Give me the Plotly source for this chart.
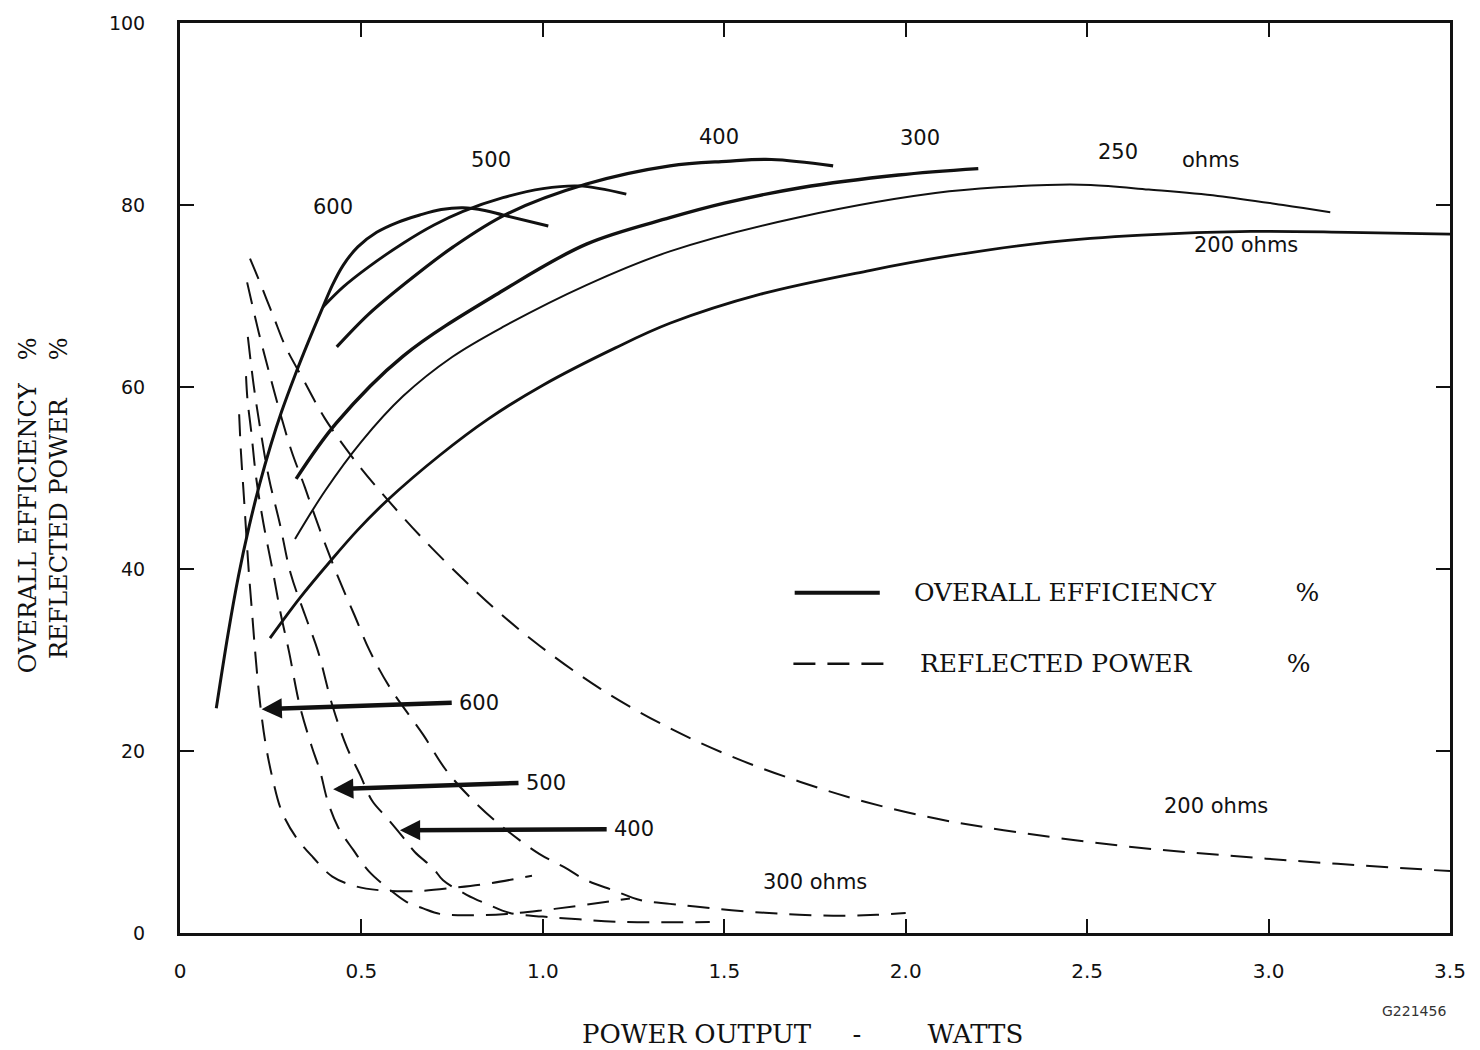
import plotly.graph_objects as go

# Overall efficiency (%) vs power output (W), one curve per load impedance
eff_600_x = [0.10, 0.133, 0.161, 0.19, 0.22, 0.25, 0.28, 0.317, 0.353, 0.394, 0.42, 0.45, 0.49, 0.542, 0.60, 0.661, 0.72, 0.78, 0.84, 0.89, 1.015]
eff_600_y = [24.7, 33.0, 39.2, 44.6, 49.4, 53.6, 57.3, 61.3, 64.9, 68.8, 71.2, 73.4, 75.4, 77.0, 78.1, 78.9, 79.5, 79.7, 79.4, 78.9, 77.7]

eff_500_x = [0.394, 0.45, 0.52, 0.615, 0.70, 0.78, 0.89, 1.0, 1.1, 1.23]
eff_500_y = [68.8, 71.0, 73.2, 75.8, 77.8, 79.3, 80.8, 81.8, 82.1, 81.2]

eff_400_x = [0.432, 0.52, 0.615, 0.753, 0.90, 1.12, 1.35, 1.505, 1.63, 1.80]
eff_400_y = [64.4, 68.0, 71.2, 75.4, 79.0, 82.3, 84.3, 84.8, 85.0, 84.3]

eff_300_x = [0.32, 0.43, 0.615, 0.89, 1.12, 1.35, 1.50, 1.71, 1.98, 2.20]
eff_300_y = [49.9, 56.0, 63.4, 70.6, 75.7, 78.6, 80.2, 81.9, 83.3, 84.0]

eff_250_x = [0.317, 0.40, 0.50, 0.615, 0.75, 0.89, 1.12, 1.35, 1.70, 2.12, 2.39, 2.51, 2.67, 2.86, 3.04, 3.17]
eff_250_y = [43.3, 48.6, 54.0, 59.0, 63.3, 66.6, 71.2, 74.9, 78.6, 81.5, 82.2, 82.2, 81.7, 81.0, 80.0, 79.2]

eff_200_x = [0.248, 0.33, 0.413, 0.49, 0.57, 0.716, 0.85, 1.0, 1.2, 1.35, 1.6, 1.9, 2.12, 2.39, 2.65, 2.95, 3.22, 3.50]
eff_200_y = [32.4, 36.8, 40.8, 44.3, 47.5, 52.5, 56.5, 60.2, 64.3, 67.0, 70.2, 72.8, 74.4, 75.9, 76.7, 77.1, 77.0, 76.8]

# Reflected power (%) vs power output (W)
ref_600_x = [0.163, 0.168, 0.176, 0.184, 0.19, 0.199, 0.208, 0.22, 0.235, 0.255, 0.28, 0.32, 0.367, 0.42, 0.487, 0.55, 0.65, 0.76, 0.86, 0.97]
ref_600_y = [57.0, 52.8, 48.0, 43.0, 39.5, 35.0, 30.5, 25.5, 21.0, 17.0, 13.4, 10.5, 8.3, 6.2, 5.1, 4.7, 4.6, 5.0, 5.5, 6.3]

ref_500_x = [0.182, 0.186, 0.196, 0.21, 0.23, 0.257, 0.278, 0.30, 0.33, 0.363, 0.386, 0.407, 0.436, 0.478, 0.52, 0.58, 0.625, 0.67, 0.716, 0.80, 0.90, 1.00, 1.10, 1.24]
ref_500_y = [61.2, 58.6, 55.2, 50.0, 45.0, 39.5, 35.0, 31.0, 25.0, 20.5, 17.8, 14.5, 11.6, 9.1, 6.8, 4.7, 3.4, 2.7, 2.1, 1.95, 2.1, 2.5, 3.0, 3.8]

ref_400_x = [0.187, 0.203, 0.22, 0.245, 0.275, 0.305, 0.344, 0.38, 0.42, 0.46, 0.496, 0.53, 0.569, 0.615, 0.647, 0.698, 0.725, 0.79, 0.845, 0.909, 1.00, 1.10, 1.20, 1.46]
ref_400_y = [65.5, 60.2, 55.7, 50.0, 45.0, 39.5, 35.0, 31.0, 25.0, 20.4, 17.4, 14.5, 12.7, 10.5, 8.9, 7.1, 5.8, 4.2, 3.2, 2.2, 1.8, 1.5, 1.25, 1.2]

ref_300_x = [0.185, 0.217, 0.245, 0.277, 0.307, 0.344, 0.363, 0.393, 0.441, 0.48, 0.523, 0.578, 0.67, 0.735, 0.817, 0.90, 0.99, 1.06, 1.12, 1.194, 1.27, 1.35, 1.42, 1.52, 1.66, 1.80, 1.92, 2.00]
ref_300_y = [71.5, 66.0, 61.7, 57.0, 53.0, 49.0, 46.8, 43.5, 38.6, 35.0, 31.0, 27.0, 21.8, 17.8, 14.2, 11.3, 8.7, 7.2, 5.8, 4.7, 3.6, 3.2, 2.9, 2.5, 2.1, 1.9, 2.0, 2.2]

ref_200_x = [0.193, 0.216, 0.24, 0.26, 0.29, 0.34, 0.40, 0.49, 0.57, 0.67, 0.78, 0.88, 0.99, 1.16, 1.34, 1.52, 1.71, 1.89, 2.08, 2.27, 2.59, 2.89, 3.19, 3.50]
ref_200_y = [74.1, 71.9, 69.5, 67.5, 64.5, 60.8, 56.5, 51.5, 47.7, 43.3, 38.9, 35.2, 31.6, 26.8, 22.7, 19.4, 16.6, 14.4, 12.6, 11.3, 9.6, 8.5, 7.6, 6.8]

# Arrows pointing the 600/500/400 labels at their reflected-power curves
arrow_labels = ["600", "500", "400"]
arrow_tail_x = [0.753, 0.937, 1.18]
arrow_tail_y = [25.3, 16.5, 11.4]
arrow_tip_x = [0.225, 0.422, 0.606]
arrow_tip_y = [24.6, 15.8, 11.3]

# Curve labels
curve_labels = ["600", "500", "400", "300", "250", "ohms", "200 ohms", "300 ohms", "200 ohms"]
curve_label_x = [0.421, 0.857, 1.485, 2.039, 2.585, 2.842, 2.939, 1.749, 2.855]
curve_label_y = [79.8, 84.9, 87.5, 87.4, 85.8, 85.0, 75.6, 5.6, 14.0]

x_ticks = [0, 0.5, 1.0, 1.5, 2.0, 2.5, 3.0, 3.5]
x_tick_text = ["0", "0.5", "1.0", "1.5", "2.0", "2.5", "3.0", "3.5"]
y_ticks = [0, 20, 40, 60, 80, 100]

INK = "#111111"
SERIF = "DejaVu Serif"
SANS = "DejaVu Sans"
NB = "\u00a0"

fig = go.Figure()

eff_curves = [
    ("600", eff_600_x, eff_600_y, 3.0),
    ("500", eff_500_x, eff_500_y, 2.8),
    ("400", eff_400_x, eff_400_y, 3.2),
    ("300", eff_300_x, eff_300_y, 3.4),
    ("250", eff_250_x, eff_250_y, 2.0),
    ("200", eff_200_x, eff_200_y, 2.8),
]
for name, xs, ys, w in eff_curves:
    fig.add_trace(go.Scatter(
        x=xs, y=ys, mode="lines", name=f"{name} ohms efficiency",
        line=dict(color=INK, width=w, shape="spline", smoothing=1.0),
        hoverinfo="x+y+name",
    ))

ref_curves = [
    ("600", ref_600_x, ref_600_y),
    ("500", ref_500_x, ref_500_y),
    ("400", ref_400_x, ref_400_y),
    ("300", ref_300_x, ref_300_y),
    ("200", ref_200_x, ref_200_y),
]
for name, xs, ys in ref_curves:
    fig.add_trace(go.Scatter(
        x=xs, y=ys, mode="lines", name=f"{name} ohms reflected",
        line=dict(color=INK, width=2, dash="22px,12px", shape="spline", smoothing=1.0),
        hoverinfo="x+y+name",
    ))

for lab, tx, ty, hx, hy in zip(arrow_labels, arrow_tail_x, arrow_tail_y, arrow_tip_x, arrow_tip_y):
    fig.add_annotation(
        x=hx, y=hy, ax=tx, ay=ty, xref="x", yref="y", axref="x", ayref="y",
        text="", showarrow=True, arrowhead=2, arrowwidth=4.5, arrowsize=0.9,
        arrowcolor=INK,
    )
    fig.add_annotation(
        x=tx, y=ty, text=lab, showarrow=False, xanchor="left", xshift=4,
        font=dict(family=SANS, size=21, color=INK),
    )

for lab, lx, ly in zip(curve_labels, curve_label_x, curve_label_y):
    fig.add_annotation(
        x=lx, y=ly, text=lab, showarrow=False,
        font=dict(family=SANS, size=21, color=INK),
    )

# legend drawn by hand (long line samples like the original)
fig.add_shape(type="line", xref="paper", yref="paper", x0=0.484, x1=0.551, y0=0.374, y1=0.374,
              line=dict(color=INK, width=4))
fig.add_shape(type="line", xref="paper", yref="paper", x0=0.483, x1=0.555, y0=0.296, y1=0.296,
              line=dict(color=INK, width=2.5, dash="22px,12px"))
fig.add_annotation(xref="paper", yref="paper", x=0.576, y=0.374, xanchor="left", yanchor="middle",
                   text="OVERALL EFFICIENCY" + NB * 10 + "%", showarrow=False,
                   font=dict(family=SERIF, size=25, color=INK))
fig.add_annotation(xref="paper", yref="paper", x=0.581, y=0.296, xanchor="left", yanchor="middle",
                   text="REFLECTED POWER" + NB * 12 + "%", showarrow=False,
                   font=dict(family=SERIF, size=25, color=INK))

# axis titles
fig.add_annotation(xref="paper", yref="paper", x=-0.108, y=0.47, textangle=-90,
                   xanchor="center", yanchor="middle",
                   text="OVERALL EFFICIENCY" + NB * 3 + "%<br>REFLECTED POWER" + NB * 5 + "%",
                   align="right", showarrow=False,
                   font=dict(family=SERIF, size=24, color=INK))
fig.add_annotation(xref="paper", yref="paper", x=0.49, y=-0.111, xanchor="center", yanchor="middle",
                   text="POWER OUTPUT" + NB * 5 + "-" + NB * 8 + "WATTS",
                   showarrow=False, font=dict(family=SERIF, size=26, color=INK))
fig.add_annotation(xref="paper", yref="paper", x=0.972, y=-0.086, xanchor="center", yanchor="middle",
                   text="G221456", showarrow=False,
                   font=dict(family=SANS, size=14, color="#333333"))

axis_common = dict(
    ticks="inside", ticklen=14, tickwidth=2, tickcolor=INK,
    showline=True, linewidth=3, linecolor=INK, mirror="ticks",
    showgrid=False, zeroline=False, automargin=False, ticklabeloverflow="allow",
)
fig.update_xaxes(range=[0, 3.5], tickvals=x_ticks, ticktext=x_tick_text,
                 ticklabelstandoff=18, tickfont=dict(family=SANS, size=20, color=INK),
                 **axis_common)
fig.update_yaxes(range=[0, 100], tickvals=y_ticks, ticklabelstandoff=28,
                 tickfont=dict(family=SANS, size=19, color=INK), **axis_common)

# page body adds ~8px, so the margins are shifted to land the frame where the original sits
fig.update_layout(
    width=1480, height=1050,
    margin=dict(l=172, r=38, t=15, b=125),
    paper_bgcolor="white", plot_bgcolor="white",
    showlegend=False,
    font=dict(family=SANS, color=INK),
)

fig.write_html("out.html")
